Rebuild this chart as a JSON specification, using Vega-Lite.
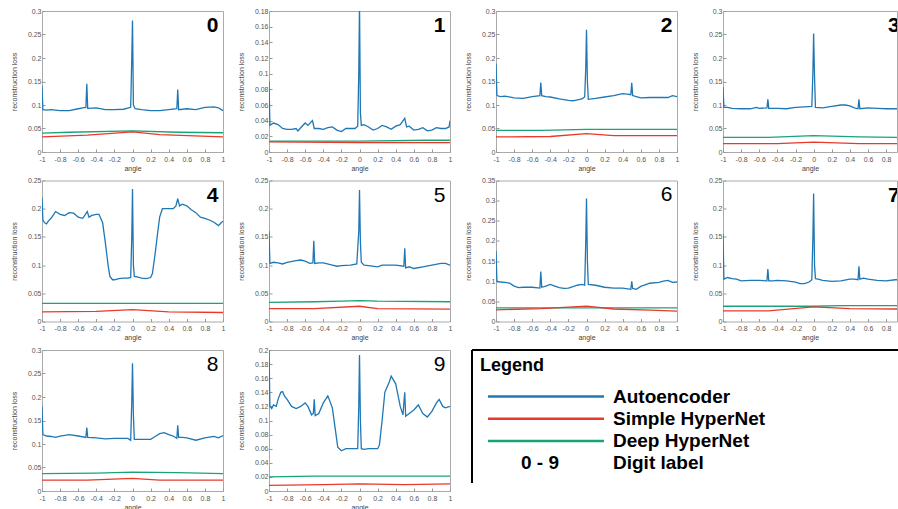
{
"$schema": "https://vega.github.io/schema/vega-lite/v6.json",
"background": "white",
"padding": {"left": 9, "top": 6, "right": 0, "bottom": 0},
"spacing": 3.5,
"config": {
 "font": "Liberation Sans",
 "view": {"stroke": "#aaa", "strokeWidth": 1},
 "range": {"category": ["#1f77b4", "#19a37a", "#e8392b"]},
 "axis": {"labelFontSize": 7, "labelColor": "#555", "titleFontSize": 7, "titleFontWeight": "normal", "titleColor": "#444", "domain": false, "tickColor": "#999", "tickSize": -3, "grid": false, "labelPadding": 4, "labelFlush": false, "labelOverlap": false},
 "axisY": {"minExtent": 22, "maxExtent": 22, "titlePadding": 3, "format": "~g"},
 "axisX": {"labelPadding": 6, "titlePadding": 2, "format": "~g", "labelExpr": "replace(datum.label, '\u2212', '-')"}
},
"datasets": {
"d0": [
{"model":"Autoencoder","angle":-1,"loss":0.14},{"model":"Autoencoder","angle":-0.99,"loss":0.09},{"model":"Autoencoder","angle":-0.95,"loss":0.089},{"model":"Autoencoder","angle":-0.9,"loss":0.09},{"model":"Autoencoder","angle":-0.8,"loss":0.088},{"model":"Autoencoder","angle":-0.7,"loss":0.088},{"model":"Autoencoder","angle":-0.6,"loss":0.092},{"model":"Autoencoder","angle":-0.55,"loss":0.094},{"model":"Autoencoder","angle":-0.515,"loss":0.095},{"model":"Autoencoder","angle":-0.505,"loss":0.145},{"model":"Autoencoder","angle":-0.495,"loss":0.093},{"model":"Autoencoder","angle":-0.4,"loss":0.094},{"model":"Autoencoder","angle":-0.3,"loss":0.09},{"model":"Autoencoder","angle":-0.2,"loss":0.09},{"model":"Autoencoder","angle":-0.1,"loss":0.091},{"model":"Autoencoder","angle":-0.02,"loss":0.095},{"model":"Autoencoder","angle":-0.008,"loss":0.2},{"model":"Autoencoder","angle":0,"loss":0.28},{"model":"Autoencoder","angle":0.01,"loss":0.1},{"model":"Autoencoder","angle":0.03,"loss":0.092},{"model":"Autoencoder","angle":0.1,"loss":0.09},{"model":"Autoencoder","angle":0.2,"loss":0.088},{"model":"Autoencoder","angle":0.3,"loss":0.088},{"model":"Autoencoder","angle":0.4,"loss":0.09},{"model":"Autoencoder","angle":0.49,"loss":0.092},{"model":"Autoencoder","angle":0.5,"loss":0.133},{"model":"Autoencoder","angle":0.51,"loss":0.09},{"model":"Autoencoder","angle":0.6,"loss":0.092},{"model":"Autoencoder","angle":0.7,"loss":0.09},{"model":"Autoencoder","angle":0.8,"loss":0.095},{"model":"Autoencoder","angle":0.9,"loss":0.096},{"model":"Autoencoder","angle":0.95,"loss":0.094},{"model":"Autoencoder","angle":1,"loss":0.088},
{"model":"Deep HyperNet","angle":-1,"loss":0.04},{"model":"Deep HyperNet","angle":-0.7,"loss":0.042},{"model":"Deep HyperNet","angle":0,"loss":0.045},{"model":"Deep HyperNet","angle":0.5,"loss":0.042},{"model":"Deep HyperNet","angle":1,"loss":0.041},
{"model":"Simple HyperNet","angle":-1,"loss":0.032},{"model":"Simple HyperNet","angle":-0.5,"loss":0.036},{"model":"Simple HyperNet","angle":0,"loss":0.043},{"model":"Simple HyperNet","angle":0.3,"loss":0.037},{"model":"Simple HyperNet","angle":1,"loss":0.032}
],
"d1": [
{"model":"Autoencoder","angle":-1,"loss":0.09},{"model":"Autoencoder","angle":-0.99,"loss":0.034},{"model":"Autoencoder","angle":-0.95,"loss":0.037},{"model":"Autoencoder","angle":-0.9,"loss":0.035},{"model":"Autoencoder","angle":-0.85,"loss":0.03},{"model":"Autoencoder","angle":-0.8,"loss":0.029},{"model":"Autoencoder","angle":-0.75,"loss":0.029},{"model":"Autoencoder","angle":-0.7,"loss":0.03},{"model":"Autoencoder","angle":-0.68,"loss":0.027},{"model":"Autoencoder","angle":-0.65,"loss":0.031},{"model":"Autoencoder","angle":-0.6,"loss":0.037},{"model":"Autoencoder","angle":-0.57,"loss":0.034},{"model":"Autoencoder","angle":-0.52,"loss":0.04},{"model":"Autoencoder","angle":-0.5,"loss":0.03},{"model":"Autoencoder","angle":-0.45,"loss":0.03},{"model":"Autoencoder","angle":-0.4,"loss":0.029},{"model":"Autoencoder","angle":-0.35,"loss":0.031},{"model":"Autoencoder","angle":-0.3,"loss":0.032},{"model":"Autoencoder","angle":-0.25,"loss":0.028},{"model":"Autoencoder","angle":-0.2,"loss":0.026},{"model":"Autoencoder","angle":-0.15,"loss":0.03},{"model":"Autoencoder","angle":-0.1,"loss":0.03},{"model":"Autoencoder","angle":-0.05,"loss":0.03},{"model":"Autoencoder","angle":-0.02,"loss":0.033},{"model":"Autoencoder","angle":-0.008,"loss":0.1},{"model":"Autoencoder","angle":0,"loss":0.19},{"model":"Autoencoder","angle":0.01,"loss":0.05},{"model":"Autoencoder","angle":0.02,"loss":0.034},{"model":"Autoencoder","angle":0.05,"loss":0.035},{"model":"Autoencoder","angle":0.1,"loss":0.032},{"model":"Autoencoder","angle":0.15,"loss":0.028},{"model":"Autoencoder","angle":0.2,"loss":0.03},{"model":"Autoencoder","angle":0.25,"loss":0.034},{"model":"Autoencoder","angle":0.3,"loss":0.032},{"model":"Autoencoder","angle":0.35,"loss":0.029},{"model":"Autoencoder","angle":0.4,"loss":0.033},{"model":"Autoencoder","angle":0.45,"loss":0.035},{"model":"Autoencoder","angle":0.5,"loss":0.043},{"model":"Autoencoder","angle":0.52,"loss":0.032},{"model":"Autoencoder","angle":0.55,"loss":0.033},{"model":"Autoencoder","angle":0.6,"loss":0.028},{"model":"Autoencoder","angle":0.65,"loss":0.029},{"model":"Autoencoder","angle":0.7,"loss":0.031},{"model":"Autoencoder","angle":0.75,"loss":0.027},{"model":"Autoencoder","angle":0.8,"loss":0.028},{"model":"Autoencoder","angle":0.85,"loss":0.031},{"model":"Autoencoder","angle":0.9,"loss":0.03},{"model":"Autoencoder","angle":0.95,"loss":0.03},{"model":"Autoencoder","angle":0.99,"loss":0.032},{"model":"Autoencoder","angle":1,"loss":0.04},
{"model":"Deep HyperNet","angle":-1,"loss":0.014},{"model":"Deep HyperNet","angle":0,"loss":0.014},{"model":"Deep HyperNet","angle":0.75,"loss":0.015},{"model":"Deep HyperNet","angle":1,"loss":0.015},
{"model":"Simple HyperNet","angle":-1,"loss":0.013},{"model":"Simple HyperNet","angle":0,"loss":0.012},{"model":"Simple HyperNet","angle":1,"loss":0.012}
],
"d2": [
{"model":"Autoencoder","angle":-1,"loss":0.188},{"model":"Autoencoder","angle":-0.99,"loss":0.12},{"model":"Autoencoder","angle":-0.95,"loss":0.118},{"model":"Autoencoder","angle":-0.9,"loss":0.119},{"model":"Autoencoder","angle":-0.8,"loss":0.115},{"model":"Autoencoder","angle":-0.7,"loss":0.114},{"model":"Autoencoder","angle":-0.6,"loss":0.118},{"model":"Autoencoder","angle":-0.515,"loss":0.12},{"model":"Autoencoder","angle":-0.505,"loss":0.148},{"model":"Autoencoder","angle":-0.495,"loss":0.12},{"model":"Autoencoder","angle":-0.45,"loss":0.118},{"model":"Autoencoder","angle":-0.4,"loss":0.117},{"model":"Autoencoder","angle":-0.3,"loss":0.113},{"model":"Autoencoder","angle":-0.2,"loss":0.11},{"model":"Autoencoder","angle":-0.15,"loss":0.109},{"model":"Autoencoder","angle":-0.1,"loss":0.111},{"model":"Autoencoder","angle":-0.05,"loss":0.113},{"model":"Autoencoder","angle":-0.02,"loss":0.117},{"model":"Autoencoder","angle":-0.008,"loss":0.18},{"model":"Autoencoder","angle":0,"loss":0.26},{"model":"Autoencoder","angle":0.01,"loss":0.15},{"model":"Autoencoder","angle":0.02,"loss":0.112},{"model":"Autoencoder","angle":0.1,"loss":0.114},{"model":"Autoencoder","angle":0.2,"loss":0.117},{"model":"Autoencoder","angle":0.3,"loss":0.12},{"model":"Autoencoder","angle":0.4,"loss":0.124},{"model":"Autoencoder","angle":0.45,"loss":0.123},{"model":"Autoencoder","angle":0.49,"loss":0.122},{"model":"Autoencoder","angle":0.5,"loss":0.147},{"model":"Autoencoder","angle":0.51,"loss":0.12},{"model":"Autoencoder","angle":0.55,"loss":0.118},{"model":"Autoencoder","angle":0.6,"loss":0.115},{"model":"Autoencoder","angle":0.7,"loss":0.116},{"model":"Autoencoder","angle":0.8,"loss":0.116},{"model":"Autoencoder","angle":0.9,"loss":0.116},{"model":"Autoencoder","angle":0.95,"loss":0.12},{"model":"Autoencoder","angle":1,"loss":0.118},
{"model":"Deep HyperNet","angle":-1,"loss":0.046},{"model":"Deep HyperNet","angle":-0.5,"loss":0.046},{"model":"Deep HyperNet","angle":0,"loss":0.048},{"model":"Deep HyperNet","angle":1,"loss":0.048},
{"model":"Simple HyperNet","angle":-1,"loss":0.032},{"model":"Simple HyperNet","angle":-0.4,"loss":0.033},{"model":"Simple HyperNet","angle":0,"loss":0.039},{"model":"Simple HyperNet","angle":0.3,"loss":0.035},{"model":"Simple HyperNet","angle":1,"loss":0.035}
],
"d3": [
{"model":"Autoencoder","angle":-1,"loss":0.138},{"model":"Autoencoder","angle":-0.99,"loss":0.095},{"model":"Autoencoder","angle":-0.95,"loss":0.095},{"model":"Autoencoder","angle":-0.9,"loss":0.093},{"model":"Autoencoder","angle":-0.8,"loss":0.092},{"model":"Autoencoder","angle":-0.7,"loss":0.092},{"model":"Autoencoder","angle":-0.63,"loss":0.095},{"model":"Autoencoder","angle":-0.6,"loss":0.093},{"model":"Autoencoder","angle":-0.515,"loss":0.094},{"model":"Autoencoder","angle":-0.505,"loss":0.112},{"model":"Autoencoder","angle":-0.495,"loss":0.093},{"model":"Autoencoder","angle":-0.4,"loss":0.093},{"model":"Autoencoder","angle":-0.3,"loss":0.092},{"model":"Autoencoder","angle":-0.2,"loss":0.095},{"model":"Autoencoder","angle":-0.1,"loss":0.096},{"model":"Autoencoder","angle":-0.02,"loss":0.097},{"model":"Autoencoder","angle":-0.008,"loss":0.17},{"model":"Autoencoder","angle":0,"loss":0.252},{"model":"Autoencoder","angle":0.01,"loss":0.16},{"model":"Autoencoder","angle":0.02,"loss":0.095},{"model":"Autoencoder","angle":0.1,"loss":0.094},{"model":"Autoencoder","angle":0.2,"loss":0.097},{"model":"Autoencoder","angle":0.3,"loss":0.1},{"model":"Autoencoder","angle":0.35,"loss":0.1},{"model":"Autoencoder","angle":0.4,"loss":0.098},{"model":"Autoencoder","angle":0.45,"loss":0.094},{"model":"Autoencoder","angle":0.49,"loss":0.092},{"model":"Autoencoder","angle":0.5,"loss":0.112},{"model":"Autoencoder","angle":0.51,"loss":0.092},{"model":"Autoencoder","angle":0.6,"loss":0.094},{"model":"Autoencoder","angle":0.7,"loss":0.093},{"model":"Autoencoder","angle":0.8,"loss":0.092},{"model":"Autoencoder","angle":0.9,"loss":0.092},{"model":"Autoencoder","angle":1,"loss":0.092},
{"model":"Deep HyperNet","angle":-1,"loss":0.031},{"model":"Deep HyperNet","angle":-0.5,"loss":0.031},{"model":"Deep HyperNet","angle":0,"loss":0.035},{"model":"Deep HyperNet","angle":0.5,"loss":0.032},{"model":"Deep HyperNet","angle":1,"loss":0.031},
{"model":"Simple HyperNet","angle":-1,"loss":0.018},{"model":"Simple HyperNet","angle":-0.4,"loss":0.018},{"model":"Simple HyperNet","angle":0,"loss":0.021},{"model":"Simple HyperNet","angle":0.5,"loss":0.018},{"model":"Simple HyperNet","angle":1,"loss":0.018}
],
"d4": [
{"model":"Autoencoder","angle":-1,"loss":0.22},{"model":"Autoencoder","angle":-0.99,"loss":0.18},{"model":"Autoencoder","angle":-0.97,"loss":0.175},{"model":"Autoencoder","angle":-0.95,"loss":0.173},{"model":"Autoencoder","angle":-0.93,"loss":0.178},{"model":"Autoencoder","angle":-0.9,"loss":0.183},{"model":"Autoencoder","angle":-0.87,"loss":0.19},{"model":"Autoencoder","angle":-0.85,"loss":0.195},{"model":"Autoencoder","angle":-0.8,"loss":0.19},{"model":"Autoencoder","angle":-0.75,"loss":0.188},{"model":"Autoencoder","angle":-0.7,"loss":0.193},{"model":"Autoencoder","angle":-0.65,"loss":0.192},{"model":"Autoencoder","angle":-0.6,"loss":0.185},{"model":"Autoencoder","angle":-0.55,"loss":0.183},{"model":"Autoencoder","angle":-0.52,"loss":0.19},{"model":"Autoencoder","angle":-0.5,"loss":0.195},{"model":"Autoencoder","angle":-0.48,"loss":0.185},{"model":"Autoencoder","angle":-0.45,"loss":0.188},{"model":"Autoencoder","angle":-0.4,"loss":0.19},{"model":"Autoencoder","angle":-0.37,"loss":0.19},{"model":"Autoencoder","angle":-0.33,"loss":0.175},{"model":"Autoencoder","angle":-0.3,"loss":0.14},{"model":"Autoencoder","angle":-0.27,"loss":0.1},{"model":"Autoencoder","angle":-0.25,"loss":0.08},{"model":"Autoencoder","angle":-0.22,"loss":0.074},{"model":"Autoencoder","angle":-0.2,"loss":0.074},{"model":"Autoencoder","angle":-0.15,"loss":0.076},{"model":"Autoencoder","angle":-0.1,"loss":0.077},{"model":"Autoencoder","angle":-0.05,"loss":0.077},{"model":"Autoencoder","angle":-0.02,"loss":0.078},{"model":"Autoencoder","angle":-0.008,"loss":0.15},{"model":"Autoencoder","angle":0,"loss":0.235},{"model":"Autoencoder","angle":0.01,"loss":0.1},{"model":"Autoencoder","angle":0.02,"loss":0.08},{"model":"Autoencoder","angle":0.05,"loss":0.079},{"model":"Autoencoder","angle":0.1,"loss":0.077},{"model":"Autoencoder","angle":0.15,"loss":0.076},{"model":"Autoencoder","angle":0.2,"loss":0.078},{"model":"Autoencoder","angle":0.22,"loss":0.085},{"model":"Autoencoder","angle":0.25,"loss":0.12},{"model":"Autoencoder","angle":0.28,"loss":0.16},{"model":"Autoencoder","angle":0.3,"loss":0.185},{"model":"Autoencoder","angle":0.33,"loss":0.2},{"model":"Autoencoder","angle":0.4,"loss":0.2},{"model":"Autoencoder","angle":0.45,"loss":0.2},{"model":"Autoencoder","angle":0.48,"loss":0.205},{"model":"Autoencoder","angle":0.5,"loss":0.218},{"model":"Autoencoder","angle":0.52,"loss":0.205},{"model":"Autoencoder","angle":0.55,"loss":0.208},{"model":"Autoencoder","angle":0.6,"loss":0.205},{"model":"Autoencoder","angle":0.65,"loss":0.198},{"model":"Autoencoder","angle":0.7,"loss":0.193},{"model":"Autoencoder","angle":0.75,"loss":0.185},{"model":"Autoencoder","angle":0.8,"loss":0.183},{"model":"Autoencoder","angle":0.85,"loss":0.18},{"model":"Autoencoder","angle":0.9,"loss":0.176},{"model":"Autoencoder","angle":0.95,"loss":0.17},{"model":"Autoencoder","angle":0.98,"loss":0.175},{"model":"Autoencoder","angle":1,"loss":0.178},
{"model":"Deep HyperNet","angle":-1,"loss":0.032},{"model":"Deep HyperNet","angle":1,"loss":0.032},
{"model":"Simple HyperNet","angle":-1,"loss":0.017},{"model":"Simple HyperNet","angle":-0.4,"loss":0.018},{"model":"Simple HyperNet","angle":0,"loss":0.021},{"model":"Simple HyperNet","angle":0.4,"loss":0.017},{"model":"Simple HyperNet","angle":1,"loss":0.016}
],
"d5": [
{"model":"Autoencoder","angle":-1,"loss":0.16},{"model":"Autoencoder","angle":-0.99,"loss":0.103},{"model":"Autoencoder","angle":-0.95,"loss":0.105},{"model":"Autoencoder","angle":-0.9,"loss":0.104},{"model":"Autoencoder","angle":-0.85,"loss":0.102},{"model":"Autoencoder","angle":-0.8,"loss":0.105},{"model":"Autoencoder","angle":-0.7,"loss":0.108},{"model":"Autoencoder","angle":-0.65,"loss":0.109},{"model":"Autoencoder","angle":-0.6,"loss":0.107},{"model":"Autoencoder","angle":-0.55,"loss":0.103},{"model":"Autoencoder","angle":-0.515,"loss":0.104},{"model":"Autoencoder","angle":-0.505,"loss":0.143},{"model":"Autoencoder","angle":-0.495,"loss":0.103},{"model":"Autoencoder","angle":-0.45,"loss":0.104},{"model":"Autoencoder","angle":-0.4,"loss":0.104},{"model":"Autoencoder","angle":-0.3,"loss":0.1},{"model":"Autoencoder","angle":-0.25,"loss":0.098},{"model":"Autoencoder","angle":-0.2,"loss":0.099},{"model":"Autoencoder","angle":-0.1,"loss":0.1},{"model":"Autoencoder","angle":-0.03,"loss":0.102},{"model":"Autoencoder","angle":-0.008,"loss":0.16},{"model":"Autoencoder","angle":0,"loss":0.233},{"model":"Autoencoder","angle":0.01,"loss":0.14},{"model":"Autoencoder","angle":0.02,"loss":0.105},{"model":"Autoencoder","angle":0.05,"loss":0.1},{"model":"Autoencoder","angle":0.1,"loss":0.099},{"model":"Autoencoder","angle":0.2,"loss":0.097},{"model":"Autoencoder","angle":0.25,"loss":0.1},{"model":"Autoencoder","angle":0.3,"loss":0.1},{"model":"Autoencoder","angle":0.4,"loss":0.1},{"model":"Autoencoder","angle":0.49,"loss":0.098},{"model":"Autoencoder","angle":0.5,"loss":0.13},{"model":"Autoencoder","angle":0.51,"loss":0.095},{"model":"Autoencoder","angle":0.55,"loss":0.097},{"model":"Autoencoder","angle":0.6,"loss":0.094},{"model":"Autoencoder","angle":0.7,"loss":0.097},{"model":"Autoencoder","angle":0.8,"loss":0.1},{"model":"Autoencoder","angle":0.9,"loss":0.103},{"model":"Autoencoder","angle":0.95,"loss":0.103},{"model":"Autoencoder","angle":1,"loss":0.1},
{"model":"Deep HyperNet","angle":-1,"loss":0.034},{"model":"Deep HyperNet","angle":-0.5,"loss":0.035},{"model":"Deep HyperNet","angle":-0.2,"loss":0.036},{"model":"Deep HyperNet","angle":0,"loss":0.037},{"model":"Deep HyperNet","angle":0.2,"loss":0.036},{"model":"Deep HyperNet","angle":1,"loss":0.035},
{"model":"Simple HyperNet","angle":-1,"loss":0.023},{"model":"Simple HyperNet","angle":-0.5,"loss":0.023},{"model":"Simple HyperNet","angle":0,"loss":0.027},{"model":"Simple HyperNet","angle":0.2,"loss":0.023},{"model":"Simple HyperNet","angle":1,"loss":0.022}
],
"d6": [
{"model":"Autoencoder","angle":-1,"loss":0.175},{"model":"Autoencoder","angle":-0.99,"loss":0.1},{"model":"Autoencoder","angle":-0.95,"loss":0.098},{"model":"Autoencoder","angle":-0.9,"loss":0.097},{"model":"Autoencoder","angle":-0.85,"loss":0.095},{"model":"Autoencoder","angle":-0.8,"loss":0.088},{"model":"Autoencoder","angle":-0.75,"loss":0.084},{"model":"Autoencoder","angle":-0.7,"loss":0.085},{"model":"Autoencoder","angle":-0.6,"loss":0.085},{"model":"Autoencoder","angle":-0.515,"loss":0.083},{"model":"Autoencoder","angle":-0.505,"loss":0.124},{"model":"Autoencoder","angle":-0.495,"loss":0.085},{"model":"Autoencoder","angle":-0.45,"loss":0.088},{"model":"Autoencoder","angle":-0.4,"loss":0.092},{"model":"Autoencoder","angle":-0.35,"loss":0.088},{"model":"Autoencoder","angle":-0.3,"loss":0.084},{"model":"Autoencoder","angle":-0.25,"loss":0.082},{"model":"Autoencoder","angle":-0.2,"loss":0.083},{"model":"Autoencoder","angle":-0.1,"loss":0.09},{"model":"Autoencoder","angle":-0.05,"loss":0.092},{"model":"Autoencoder","angle":-0.02,"loss":0.09},{"model":"Autoencoder","angle":-0.008,"loss":0.2},{"model":"Autoencoder","angle":0,"loss":0.305},{"model":"Autoencoder","angle":0.01,"loss":0.15},{"model":"Autoencoder","angle":0.02,"loss":0.092},{"model":"Autoencoder","angle":0.1,"loss":0.09},{"model":"Autoencoder","angle":0.2,"loss":0.085},{"model":"Autoencoder","angle":0.3,"loss":0.083},{"model":"Autoencoder","angle":0.4,"loss":0.083},{"model":"Autoencoder","angle":0.49,"loss":0.08},{"model":"Autoencoder","angle":0.5,"loss":0.1},{"model":"Autoencoder","angle":0.51,"loss":0.082},{"model":"Autoencoder","angle":0.55,"loss":0.08},{"model":"Autoencoder","angle":0.6,"loss":0.087},{"model":"Autoencoder","angle":0.7,"loss":0.095},{"model":"Autoencoder","angle":0.8,"loss":0.097},{"model":"Autoencoder","angle":0.85,"loss":0.1},{"model":"Autoencoder","angle":0.9,"loss":0.102},{"model":"Autoencoder","angle":0.95,"loss":0.097},{"model":"Autoencoder","angle":1,"loss":0.098},
{"model":"Deep HyperNet","angle":-1,"loss":0.034},{"model":"Deep HyperNet","angle":1,"loss":0.034},
{"model":"Simple HyperNet","angle":-1,"loss":0.029},{"model":"Simple HyperNet","angle":-0.5,"loss":0.032},{"model":"Simple HyperNet","angle":0,"loss":0.038},{"model":"Simple HyperNet","angle":0.3,"loss":0.031},{"model":"Simple HyperNet","angle":0.7,"loss":0.028},{"model":"Simple HyperNet","angle":1,"loss":0.026}
],
"d7": [
{"model":"Autoencoder","angle":-1,"loss":0.155},{"model":"Autoencoder","angle":-0.99,"loss":0.075},{"model":"Autoencoder","angle":-0.95,"loss":0.078},{"model":"Autoencoder","angle":-0.9,"loss":0.076},{"model":"Autoencoder","angle":-0.85,"loss":0.075},{"model":"Autoencoder","angle":-0.8,"loss":0.072},{"model":"Autoencoder","angle":-0.7,"loss":0.073},{"model":"Autoencoder","angle":-0.6,"loss":0.073},{"model":"Autoencoder","angle":-0.515,"loss":0.072},{"model":"Autoencoder","angle":-0.505,"loss":0.093},{"model":"Autoencoder","angle":-0.495,"loss":0.072},{"model":"Autoencoder","angle":-0.45,"loss":0.072},{"model":"Autoencoder","angle":-0.4,"loss":0.073},{"model":"Autoencoder","angle":-0.3,"loss":0.072},{"model":"Autoencoder","angle":-0.2,"loss":0.07},{"model":"Autoencoder","angle":-0.15,"loss":0.067},{"model":"Autoencoder","angle":-0.1,"loss":0.067},{"model":"Autoencoder","angle":-0.05,"loss":0.07},{"model":"Autoencoder","angle":-0.02,"loss":0.074},{"model":"Autoencoder","angle":-0.008,"loss":0.15},{"model":"Autoencoder","angle":0,"loss":0.227},{"model":"Autoencoder","angle":0.01,"loss":0.1},{"model":"Autoencoder","angle":0.02,"loss":0.076},{"model":"Autoencoder","angle":0.05,"loss":0.075},{"model":"Autoencoder","angle":0.1,"loss":0.073},{"model":"Autoencoder","angle":0.2,"loss":0.071},{"model":"Autoencoder","angle":0.3,"loss":0.072},{"model":"Autoencoder","angle":0.4,"loss":0.075},{"model":"Autoencoder","angle":0.45,"loss":0.075},{"model":"Autoencoder","angle":0.49,"loss":0.074},{"model":"Autoencoder","angle":0.5,"loss":0.098},{"model":"Autoencoder","angle":0.51,"loss":0.075},{"model":"Autoencoder","angle":0.55,"loss":0.077},{"model":"Autoencoder","angle":0.6,"loss":0.075},{"model":"Autoencoder","angle":0.7,"loss":0.073},{"model":"Autoencoder","angle":0.8,"loss":0.072},{"model":"Autoencoder","angle":0.9,"loss":0.074},{"model":"Autoencoder","angle":1,"loss":0.074},
{"model":"Deep HyperNet","angle":-1,"loss":0.027},{"model":"Deep HyperNet","angle":0,"loss":0.027},{"model":"Deep HyperNet","angle":0.3,"loss":0.028},{"model":"Deep HyperNet","angle":1,"loss":0.028},
{"model":"Simple HyperNet","angle":-1,"loss":0.019},{"model":"Simple HyperNet","angle":-0.5,"loss":0.019},{"model":"Simple HyperNet","angle":0,"loss":0.026},{"model":"Simple HyperNet","angle":0.4,"loss":0.023},{"model":"Simple HyperNet","angle":1,"loss":0.022}
],
"d8": [
{"model":"Autoencoder","angle":-1,"loss":0.18},{"model":"Autoencoder","angle":-0.99,"loss":0.12},{"model":"Autoencoder","angle":-0.95,"loss":0.117},{"model":"Autoencoder","angle":-0.9,"loss":0.116},{"model":"Autoencoder","angle":-0.85,"loss":0.114},{"model":"Autoencoder","angle":-0.8,"loss":0.117},{"model":"Autoencoder","angle":-0.7,"loss":0.12},{"model":"Autoencoder","angle":-0.6,"loss":0.117},{"model":"Autoencoder","angle":-0.515,"loss":0.114},{"model":"Autoencoder","angle":-0.505,"loss":0.135},{"model":"Autoencoder","angle":-0.495,"loss":0.114},{"model":"Autoencoder","angle":-0.4,"loss":0.113},{"model":"Autoencoder","angle":-0.3,"loss":0.111},{"model":"Autoencoder","angle":-0.2,"loss":0.112},{"model":"Autoencoder","angle":-0.1,"loss":0.112},{"model":"Autoencoder","angle":-0.05,"loss":0.112},{"model":"Autoencoder","angle":-0.02,"loss":0.108},{"model":"Autoencoder","angle":-0.008,"loss":0.19},{"model":"Autoencoder","angle":0,"loss":0.272},{"model":"Autoencoder","angle":0.01,"loss":0.16},{"model":"Autoencoder","angle":0.02,"loss":0.11},{"model":"Autoencoder","angle":0.1,"loss":0.11},{"model":"Autoencoder","angle":0.2,"loss":0.11},{"model":"Autoencoder","angle":0.25,"loss":0.116},{"model":"Autoencoder","angle":0.3,"loss":0.122},{"model":"Autoencoder","angle":0.35,"loss":0.124},{"model":"Autoencoder","angle":0.4,"loss":0.12},{"model":"Autoencoder","angle":0.45,"loss":0.117},{"model":"Autoencoder","angle":0.49,"loss":0.112},{"model":"Autoencoder","angle":0.5,"loss":0.14},{"model":"Autoencoder","angle":0.51,"loss":0.114},{"model":"Autoencoder","angle":0.55,"loss":0.114},{"model":"Autoencoder","angle":0.6,"loss":0.113},{"model":"Autoencoder","angle":0.7,"loss":0.108},{"model":"Autoencoder","angle":0.8,"loss":0.113},{"model":"Autoencoder","angle":0.9,"loss":0.116},{"model":"Autoencoder","angle":0.95,"loss":0.113},{"model":"Autoencoder","angle":1,"loss":0.118},
{"model":"Deep HyperNet","angle":-1,"loss":0.037},{"model":"Deep HyperNet","angle":-0.4,"loss":0.038},{"model":"Deep HyperNet","angle":0,"loss":0.04},{"model":"Deep HyperNet","angle":0.5,"loss":0.039},{"model":"Deep HyperNet","angle":1,"loss":0.037},
{"model":"Simple HyperNet","angle":-1,"loss":0.023},{"model":"Simple HyperNet","angle":-0.5,"loss":0.023},{"model":"Simple HyperNet","angle":0,"loss":0.027},{"model":"Simple HyperNet","angle":0.3,"loss":0.023},{"model":"Simple HyperNet","angle":1,"loss":0.023}
],
"d9": [
{"model":"Autoencoder","angle":-1,"loss":0.2},{"model":"Autoencoder","angle":-0.99,"loss":0.12},{"model":"Autoencoder","angle":-0.97,"loss":0.117},{"model":"Autoencoder","angle":-0.95,"loss":0.122},{"model":"Autoencoder","angle":-0.92,"loss":0.12},{"model":"Autoencoder","angle":-0.9,"loss":0.13},{"model":"Autoencoder","angle":-0.87,"loss":0.14},{"model":"Autoencoder","angle":-0.85,"loss":0.141},{"model":"Autoencoder","angle":-0.83,"loss":0.135},{"model":"Autoencoder","angle":-0.8,"loss":0.13},{"model":"Autoencoder","angle":-0.75,"loss":0.12},{"model":"Autoencoder","angle":-0.7,"loss":0.117},{"model":"Autoencoder","angle":-0.65,"loss":0.12},{"model":"Autoencoder","angle":-0.6,"loss":0.125},{"model":"Autoencoder","angle":-0.57,"loss":0.12},{"model":"Autoencoder","angle":-0.53,"loss":0.108},{"model":"Autoencoder","angle":-0.51,"loss":0.11},{"model":"Autoencoder","angle":-0.5,"loss":0.13},{"model":"Autoencoder","angle":-0.49,"loss":0.107},{"model":"Autoencoder","angle":-0.45,"loss":0.11},{"model":"Autoencoder","angle":-0.4,"loss":0.125},{"model":"Autoencoder","angle":-0.35,"loss":0.135},{"model":"Autoencoder","angle":-0.32,"loss":0.125},{"model":"Autoencoder","angle":-0.3,"loss":0.118},{"model":"Autoencoder","angle":-0.27,"loss":0.09},{"model":"Autoencoder","angle":-0.24,"loss":0.062},{"model":"Autoencoder","angle":-0.2,"loss":0.057},{"model":"Autoencoder","angle":-0.15,"loss":0.06},{"model":"Autoencoder","angle":-0.1,"loss":0.06},{"model":"Autoencoder","angle":-0.05,"loss":0.06},{"model":"Autoencoder","angle":-0.02,"loss":0.06},{"model":"Autoencoder","angle":-0.008,"loss":0.12},{"model":"Autoencoder","angle":0,"loss":0.193},{"model":"Autoencoder","angle":0.01,"loss":0.1},{"model":"Autoencoder","angle":0.02,"loss":0.06},{"model":"Autoencoder","angle":0.05,"loss":0.059},{"model":"Autoencoder","angle":0.1,"loss":0.06},{"model":"Autoencoder","angle":0.15,"loss":0.06},{"model":"Autoencoder","angle":0.2,"loss":0.06},{"model":"Autoencoder","angle":0.22,"loss":0.065},{"model":"Autoencoder","angle":0.25,"loss":0.1},{"model":"Autoencoder","angle":0.28,"loss":0.14},{"model":"Autoencoder","angle":0.33,"loss":0.155},{"model":"Autoencoder","angle":0.35,"loss":0.163},{"model":"Autoencoder","angle":0.4,"loss":0.152},{"model":"Autoencoder","angle":0.45,"loss":0.12},{"model":"Autoencoder","angle":0.48,"loss":0.108},{"model":"Autoencoder","angle":0.5,"loss":0.14},{"model":"Autoencoder","angle":0.51,"loss":0.106},{"model":"Autoencoder","angle":0.55,"loss":0.11},{"model":"Autoencoder","angle":0.6,"loss":0.115},{"model":"Autoencoder","angle":0.65,"loss":0.122},{"model":"Autoencoder","angle":0.7,"loss":0.11},{"model":"Autoencoder","angle":0.75,"loss":0.105},{"model":"Autoencoder","angle":0.8,"loss":0.113},{"model":"Autoencoder","angle":0.85,"loss":0.125},{"model":"Autoencoder","angle":0.88,"loss":0.13},{"model":"Autoencoder","angle":0.92,"loss":0.12},{"model":"Autoencoder","angle":0.95,"loss":0.118},{"model":"Autoencoder","angle":1,"loss":0.12},
{"model":"Deep HyperNet","angle":-1,"loss":0.02},{"model":"Deep HyperNet","angle":-0.5,"loss":0.021},{"model":"Deep HyperNet","angle":0,"loss":0.021},{"model":"Deep HyperNet","angle":0.5,"loss":0.021},{"model":"Deep HyperNet","angle":1,"loss":0.021},
{"model":"Simple HyperNet","angle":-1,"loss":0.008},{"model":"Simple HyperNet","angle":-0.4,"loss":0.009},{"model":"Simple HyperNet","angle":0,"loss":0.01},{"model":"Simple HyperNet","angle":0.5,"loss":0.009},{"model":"Simple HyperNet","angle":1,"loss":0.01}
],
"legend": [
{"label":"Autoencoder","order":2,"key":""},
{"label":"Simple HyperNet","order":3,"key":""},
{"label":"Deep HyperNet","order":4,"key":""},
{"label":"Digit label","order":5,"key":"0 - 9"}
]
},
"vconcat": [
{"hconcat": [
{"width":181,"height":141,"data":{"name":"d0"},"layer":[
 {"mark":{"type":"line","strokeWidth":1.3,"clip":true},"encoding":{"x":{"field":"angle","type":"quantitative","scale":{"domain":[-1,1],"nice":false},"axis":{"title":"angle","labelOverlap":false,"tickCount":40,"values":[-1,-0.8,-0.6,-0.4,-0.2,0,0.2,0.4,0.6,0.8,1]}},"y":{"field":"loss","type":"quantitative","scale":{"domain":[0,0.3],"nice":false},"axis":{"title":"reconstruction loss","labelOverlap":false,"tickCount":40,"values":[0,0.05,0.1,0.15,0.2,0.25,0.3]}},"color":{"field":"model","type":"nominal","legend":null}}},
 {"data":{"values":[{"digit":"0"}]},"mark":{"type":"text","align":"left","baseline":"middle","fontSize":21,"fontWeight":"bold","clip":true},"encoding":{"text":{"field":"digit"},"x":{"datum":0.82},"y":{"datum":0.268}}}
]},
{"width":181,"height":141,"data":{"name":"d1"},"layer":[
 {"mark":{"type":"line","strokeWidth":1.3,"clip":true},"encoding":{"x":{"field":"angle","type":"quantitative","scale":{"domain":[-1,1],"nice":false},"axis":{"title":"angle","labelOverlap":false,"tickCount":40,"values":[-1,-0.8,-0.6,-0.4,-0.2,0,0.2,0.4,0.6,0.8,1]}},"y":{"field":"loss","type":"quantitative","scale":{"domain":[0,0.18],"nice":false},"axis":{"title":"reconstruction loss","labelOverlap":false,"tickCount":40,"values":[0,0.02,0.04,0.06,0.08,0.1,0.12,0.14,0.16,0.18]}},"color":{"field":"model","type":"nominal","legend":null}}},
 {"data":{"values":[{"digit":"1"}]},"mark":{"type":"text","align":"left","baseline":"middle","fontSize":21,"fontWeight":"bold","clip":true},"encoding":{"text":{"field":"digit"},"x":{"datum":0.82},"y":{"datum":0.161}}}
]},
{"width":181,"height":141,"data":{"name":"d2"},"layer":[
 {"mark":{"type":"line","strokeWidth":1.3,"clip":true},"encoding":{"x":{"field":"angle","type":"quantitative","scale":{"domain":[-1,1],"nice":false},"axis":{"title":"angle","labelOverlap":false,"tickCount":40,"values":[-1,-0.8,-0.6,-0.4,-0.2,0,0.2,0.4,0.6,0.8,1]}},"y":{"field":"loss","type":"quantitative","scale":{"domain":[0,0.3],"nice":false},"axis":{"title":"reconstruction loss","labelOverlap":false,"tickCount":40,"values":[0,0.05,0.1,0.15,0.2,0.25,0.3]}},"color":{"field":"model","type":"nominal","legend":null}}},
 {"data":{"values":[{"digit":"2"}]},"mark":{"type":"text","align":"left","baseline":"middle","fontSize":21,"fontWeight":"bold","clip":true},"encoding":{"text":{"field":"digit"},"x":{"datum":0.82},"y":{"datum":0.268}}}
]},
{"width":174,"height":141,"data":{"name":"d3"},"layer":[
 {"mark":{"type":"line","strokeWidth":1.3,"clip":true},"encoding":{"x":{"field":"angle","type":"quantitative","scale":{"domain":[-1,0.92],"nice":false},"axis":{"title":"angle","labelOverlap":false,"tickCount":40,"values":[-1,-0.8,-0.6,-0.4,-0.2,0,0.2,0.4,0.6,0.8]}},"y":{"field":"loss","type":"quantitative","scale":{"domain":[0,0.3],"nice":false},"axis":{"title":"reconstruction loss","labelOverlap":false,"tickCount":40,"values":[0,0.05,0.1,0.15,0.2,0.25,0.3]}},"color":{"field":"model","type":"nominal","legend":null}}},
 {"data":{"values":[{"digit":"3"}]},"mark":{"type":"text","align":"left","baseline":"middle","fontSize":21,"fontWeight":"bold","clip":true},"encoding":{"text":{"field":"digit"},"x":{"datum":0.82},"y":{"datum":0.268}}}
]}
], "spacing": 46, "bounds": "flush"},
{"hconcat": [
{"width":181,"height":141,"data":{"name":"d4"},"layer":[
 {"mark":{"type":"line","strokeWidth":1.3,"clip":true},"encoding":{"x":{"field":"angle","type":"quantitative","scale":{"domain":[-1,1],"nice":false},"axis":{"title":"angle","labelOverlap":false,"tickCount":40,"values":[-1,-0.8,-0.6,-0.4,-0.2,0,0.2,0.4,0.6,0.8,1]}},"y":{"field":"loss","type":"quantitative","scale":{"domain":[0,0.25],"nice":false},"axis":{"title":"reconstruction loss","labelOverlap":false,"tickCount":40,"values":[0,0.05,0.1,0.15,0.2,0.25]}},"color":{"field":"model","type":"nominal","legend":null}}},
 {"data":{"values":[{"digit":"4"}]},"mark":{"type":"text","align":"left","baseline":"middle","fontSize":21,"fontWeight":"bold","clip":true},"encoding":{"text":{"field":"digit"},"x":{"datum":0.82},"y":{"datum":0.223}}}
]},
{"width":181,"height":141,"data":{"name":"d5"},"layer":[
 {"mark":{"type":"line","strokeWidth":1.3,"clip":true},"encoding":{"x":{"field":"angle","type":"quantitative","scale":{"domain":[-1,1],"nice":false},"axis":{"title":"angle","labelOverlap":false,"tickCount":40,"values":[-1,-0.8,-0.6,-0.4,-0.2,0,0.2,0.4,0.6,0.8,1]}},"y":{"field":"loss","type":"quantitative","scale":{"domain":[0,0.25],"nice":false},"axis":{"title":"reconstruction loss","labelOverlap":false,"tickCount":40,"values":[0,0.05,0.1,0.15,0.2,0.25]}},"color":{"field":"model","type":"nominal","legend":null}}},
 {"data":{"values":[{"digit":"5"}]},"mark":{"type":"text","align":"left","baseline":"middle","fontSize":21,"fontWeight":"normal","clip":true},"encoding":{"text":{"field":"digit"},"x":{"datum":0.82},"y":{"datum":0.223}}}
]},
{"width":181,"height":141,"data":{"name":"d6"},"layer":[
 {"mark":{"type":"line","strokeWidth":1.3,"clip":true},"encoding":{"x":{"field":"angle","type":"quantitative","scale":{"domain":[-1,1],"nice":false},"axis":{"title":"angle","labelOverlap":false,"tickCount":40,"values":[-1,-0.8,-0.6,-0.4,-0.2,0,0.2,0.4,0.6,0.8,1]}},"y":{"field":"loss","type":"quantitative","scale":{"domain":[0,0.35],"nice":false},"axis":{"title":"reconstruction loss","labelOverlap":false,"tickCount":40,"values":[0,0.05,0.1,0.15,0.2,0.25,0.3,0.35]}},"color":{"field":"model","type":"nominal","legend":null}}},
 {"data":{"values":[{"digit":"6"}]},"mark":{"type":"text","align":"left","baseline":"middle","fontSize":21,"fontWeight":"normal","clip":true},"encoding":{"text":{"field":"digit"},"x":{"datum":0.82},"y":{"datum":0.313}}}
]},
{"width":174,"height":141,"data":{"name":"d7"},"layer":[
 {"mark":{"type":"line","strokeWidth":1.3,"clip":true},"encoding":{"x":{"field":"angle","type":"quantitative","scale":{"domain":[-1,0.92],"nice":false},"axis":{"title":"angle","labelOverlap":false,"tickCount":40,"values":[-1,-0.8,-0.6,-0.4,-0.2,0,0.2,0.4,0.6,0.8]}},"y":{"field":"loss","type":"quantitative","scale":{"domain":[0,0.25],"nice":false},"axis":{"title":"reconstruction loss","labelOverlap":false,"tickCount":40,"values":[0,0.05,0.1,0.15,0.2,0.25]}},"color":{"field":"model","type":"nominal","legend":null}}},
 {"data":{"values":[{"digit":"7"}]},"mark":{"type":"text","align":"left","baseline":"middle","fontSize":21,"fontWeight":"bold","clip":true},"encoding":{"text":{"field":"digit"},"x":{"datum":0.82},"y":{"datum":0.223}}}
]}
], "spacing": 46, "bounds": "flush"},
{"hconcat": [
{"width":181,"height":141,"data":{"name":"d8"},"layer":[
 {"mark":{"type":"line","strokeWidth":1.3,"clip":true},"encoding":{"x":{"field":"angle","type":"quantitative","scale":{"domain":[-1,1],"nice":false},"axis":{"title":"angle","labelOverlap":false,"tickCount":40,"values":[-1,-0.8,-0.6,-0.4,-0.2,0,0.2,0.4,0.6,0.8,1]}},"y":{"field":"loss","type":"quantitative","scale":{"domain":[0,0.3],"nice":false},"axis":{"title":"reconstruction loss","labelOverlap":false,"tickCount":40,"values":[0,0.05,0.1,0.15,0.2,0.25,0.3]}},"color":{"field":"model","type":"nominal","legend":null}}},
 {"data":{"values":[{"digit":"8"}]},"mark":{"type":"text","align":"left","baseline":"middle","fontSize":21,"fontWeight":"normal","clip":true},"encoding":{"text":{"field":"digit"},"x":{"datum":0.82},"y":{"datum":0.268}}}
]},
{"width":181,"height":141,"data":{"name":"d9"},"layer":[
 {"mark":{"type":"line","strokeWidth":1.3,"clip":true},"encoding":{"x":{"field":"angle","type":"quantitative","scale":{"domain":[-1,1],"nice":false},"axis":{"title":"angle","labelOverlap":false,"tickCount":40,"values":[-1,-0.8,-0.6,-0.4,-0.2,0,0.2,0.4,0.6,0.8,1]}},"y":{"field":"loss","type":"quantitative","scale":{"domain":[0,0.2],"nice":false},"axis":{"title":"reconstruction loss","labelOverlap":false,"tickCount":40,"values":[0,0.02,0.04,0.06,0.08,0.1,0.12,0.14,0.16,0.18,0.2]}},"color":{"field":"model","type":"nominal","legend":null}}},
 {"data":{"values":[{"digit":"9"}]},"mark":{"type":"text","align":"left","baseline":"middle","fontSize":21,"fontWeight":"normal","clip":true},"encoding":{"text":{"field":"digit"},"x":{"datum":0.82},"y":{"datum":0.179}}}
]},
{"width":402,"height":133,"view":{"stroke":null},"data":{"name":"legend"},
 "encoding":{"x":{"type":"quantitative","scale":{"domain":[0,402],"nice":false,"zero":false},"axis":null},"y":{"type":"quantitative","scale":{"domain":[-0.1,5.9],"nice":false,"zero":false,"reverse":true},"axis":null}},
 "layer":[
 {"data":{"values":[{"side":"left"}]},"mark":{"type":"rule","color":"#000","strokeWidth":2},"encoding":{"x":{"datum":-24},"y":{"datum":-0.1},"y2":{"datum":5.9}}},
 {"data":{"values":[{"side":"top"}]},"mark":{"type":"rule","color":"#000","strokeWidth":2},"encoding":{"x":{"datum":-24},"x2":{"datum":402},"y":{"datum":-0.1}}},
 {"data":{"values":[{"title":"Legend"}]},"mark":{"type":"text","align":"left","baseline":"middle","fontSize":18,"fontWeight":"bold","color":"#000"},"encoding":{"text":{"field":"title"},"x":{"datum":-16},"y":{"datum":0.62}}},
 {"transform":[{"filter":"datum.order < 5"}],"mark":{"type":"rule","strokeWidth":2.5},"encoding":{"x":{"datum":-8},"x2":{"datum":108},"y":{"field":"order","type":"quantitative"},"color":{"field":"label","type":"nominal","legend":null}}},
 {"mark":{"type":"text","align":"left","baseline":"middle","fontSize":19,"fontWeight":"bold","color":"#000"},"encoding":{"text":{"field":"label"},"x":{"datum":117},"y":{"field":"order","type":"quantitative"}}},
 {"transform":[{"filter":"datum.key != ''"}],"mark":{"type":"text","align":"center","baseline":"middle","fontSize":19,"fontWeight":"bold","color":"#000"},"encoding":{"text":{"field":"key"},"x":{"datum":44},"y":{"field":"order","type":"quantitative"}}}
 ]}
], "spacing": 46, "bounds": "flush"}
]
}
